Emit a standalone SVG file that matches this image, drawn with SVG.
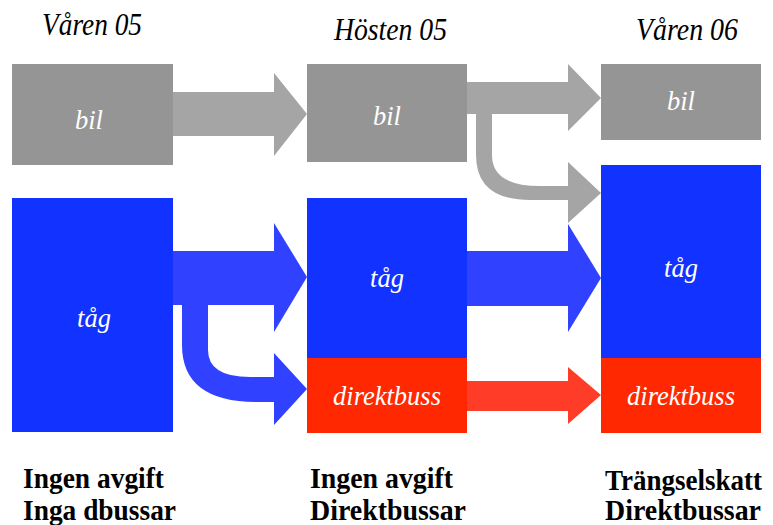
<svg xmlns="http://www.w3.org/2000/svg" width="773" height="525" viewBox="0 0 773 525">
  <style>
    .car { fill: #959595; }
    .train { fill: #1232ff; }
    .bus { fill: #ff2800; }
    .a-car { fill: #a5a5a5; }
    .a-train { fill: #3042ff; }
    .a-bus { fill: #ff3c28; }
    text { font-family: 'Liberation Serif', 'DejaVu Serif', serif; }
    .lbl { font-style: italic; font-size: 26.5px; fill: #ffffff; text-anchor: middle; }
    .head { font-style: italic; font-size: 32px; fill: #000000; }
    .note { font-weight: bold; font-size: 30px; fill: #000000; }
  </style>
  <rect width="773" height="525" fill="#ffffff"/>

  <!-- period headings -->
  <text class="head" x="42" y="35" textLength="100" lengthAdjust="spacingAndGlyphs">Våren 05</text>
  <text class="head" x="334" y="40" textLength="113" lengthAdjust="spacingAndGlyphs">Hösten 05</text>
  <text class="head" x="636" y="40" textLength="102" lengthAdjust="spacingAndGlyphs">Våren 06</text>

  <!-- column 1: spring 05 -->
  <g id="bil-v05">
    <rect class="car" x="12" y="64" width="161" height="101"/>
    <text class="lbl" x="89" y="129">bil</text>
  </g>
  <g id="tag-v05">
    <rect class="train" x="12" y="198" width="161" height="234"/>
    <text class="lbl" x="94" y="327">tåg</text>
  </g>

  <!-- column 2: autumn 05 -->
  <g id="bil-h05">
    <rect class="car" x="307" y="64" width="160" height="98"/>
    <text class="lbl" x="387" y="125">bil</text>
  </g>
  <g id="tag-h05">
    <rect class="train" x="307" y="198" width="160" height="160"/>
    <text class="lbl" x="387" y="287">tåg</text>
  </g>
  <g id="buss-h05">
    <rect class="bus" x="307" y="358" width="160" height="75"/>
    <text class="lbl" x="387" y="405">direktbuss</text>
  </g>

  <!-- column 3: spring 06 -->
  <g id="bil-v06">
    <rect class="car" x="601" y="64" width="160" height="76"/>
    <text class="lbl" x="681" y="110">bil</text>
  </g>
  <g id="tag-v06">
    <rect class="train" x="601" y="165" width="160" height="193"/>
    <text class="lbl" x="681" y="277">tåg</text>
  </g>
  <g id="buss-v06">
    <rect class="bus" x="601" y="358" width="160" height="75"/>
    <text class="lbl" x="681" y="405">direktbuss</text>
  </g>

  <!-- flows between periods -->
  <g id="connectors">
    <path class="a-car" d="M173,92 L274,92 L274,73 L307,114 L274,156 L274,136 L173,136 Z"/>
    <path class="a-train" d="M173,251 L274,251 L274,223 L307,277 L274,332 L274,305 L173,305 Z"/>
    <path class="a-train" d="M182,300 L182,345 Q182,402 257,402 L274,402 L274,425 L307,389 L274,353 L274,377 L250,377 Q208,377 208,350 L208,300 Z"/>
    <path class="a-car" d="M467,82 L568,82 L568,64 L601,98 L568,131 L568,114 L467,114 Z"/>
    <path class="a-car" d="M476,110 L476,155 Q476,200 530,200 L568,200 L568,223 L601,193 L568,162 L568,186 L540,186 Q492,186 492,155 L492,110 Z"/>
    <path class="a-train" d="M467,251 L568,251 L568,224 L601,278 L568,332 L568,306 L467,306 Z"/>
    <path class="a-bus" d="M467,381 L568,381 L568,367 L601,395 L568,424 L568,411 L467,411 Z"/>
  </g>

  <!-- conditions per period -->
  <text class="note" x="23" y="488" textLength="141" lengthAdjust="spacingAndGlyphs">Ingen avgift</text>
  <text class="note" x="23" y="520" textLength="153" lengthAdjust="spacingAndGlyphs">Inga dbussar</text>
  <text class="note" x="310" y="488" textLength="143" lengthAdjust="spacingAndGlyphs">Ingen avgift</text>
  <text class="note" x="310" y="520" textLength="156" lengthAdjust="spacingAndGlyphs">Direktbussar</text>
  <text class="note" transform="translate(605,490) scale(0.9,1)">Trängselskatt</text>
  <text class="note" transform="translate(605,520) scale(0.93,1)">Direktbussar</text>
</svg>
